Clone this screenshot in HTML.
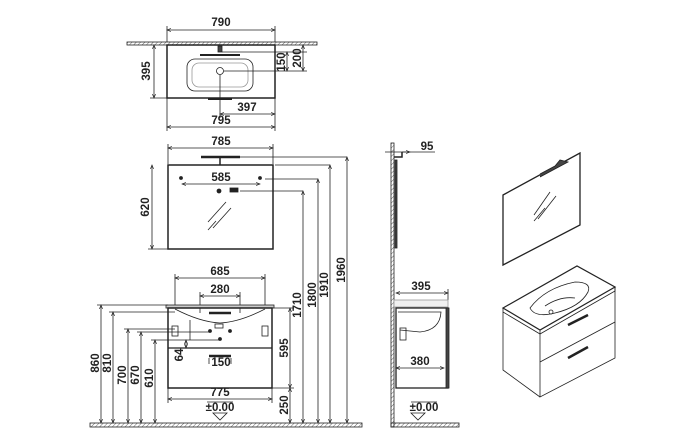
<!DOCTYPE html>
<html><head><style>html,body{margin:0;padding:0;background:#fff}svg{display:block}text{font-family:"Liberation Sans",sans-serif;font-weight:bold;font-size:11.5px;fill:#222}</style></head><body>
<svg width="678" height="447" viewBox="0 0 678 447" xmlns="http://www.w3.org/2000/svg">
<defs>
<pattern id="h" width="3" height="3" patternUnits="userSpaceOnUse" patternTransform="rotate(45)"><line x1="0" y1="0" x2="0" y2="3" stroke="#666" stroke-width="1"/></pattern>
<marker id="a" markerWidth="6" markerHeight="6" refX="5" refY="3" orient="auto-start-reverse"><path d="M0,1 L5,3 L0,5" fill="none" stroke="#222" stroke-width="0.8"/></marker>
</defs>
<g stroke="#222" fill="none" stroke-width="0.8">
<rect x="127" y="42" width="190" height="3" fill="url(#h)"/>
<rect x="167" y="45" width="108" height="53" stroke-width="1.5"/>
<rect x="187" y="59" width="66" height="32" rx="8"/>
<rect x="192" y="63" width="56" height="24" rx="7" stroke="#999"/>
<circle cx="220" cy="71" r="3.5"/>
<rect x="218" y="46" width="4" height="6" fill="#444"/>
<line x1="200" y1="55" x2="240" y2="55" stroke-width="2"/>
<line x1="208" y1="99" x2="232" y2="99" stroke-width="2"/>
<line x1="167" y1="30" x2="275" y2="30" marker-start="url(#a)" marker-end="url(#a)"/>
<line x1="167" y1="26" x2="167" y2="42"/><line x1="275" y1="26" x2="275" y2="42"/>
<line x1="154" y1="45" x2="154" y2="98" marker-start="url(#a)" marker-end="url(#a)"/>
<line x1="150" y1="98" x2="167" y2="98"/>
<line x1="222" y1="52" x2="307" y2="52"/>
<line x1="224" y1="71" x2="290" y2="71"/>
<line x1="287" y1="52" x2="287" y2="71" marker-start="url(#a)" marker-end="url(#a)"/>
<line x1="303" y1="45" x2="303" y2="71" marker-start="url(#a)" marker-end="url(#a)"/>
<line x1="290" y1="71" x2="307" y2="71"/>
<line x1="220" y1="75" x2="220" y2="118"/>
<line x1="220" y1="114" x2="275" y2="114" marker-start="url(#a)" marker-end="url(#a)"/>
<line x1="167" y1="98" x2="167" y2="131"/><line x1="275" y1="98" x2="275" y2="131"/>
<line x1="167" y1="127" x2="275" y2="127" marker-start="url(#a)" marker-end="url(#a)"/>
<line x1="168" y1="148" x2="273" y2="148" marker-start="url(#a)" marker-end="url(#a)"/>
<line x1="168" y1="144" x2="168" y2="164"/><line x1="273" y1="144" x2="273" y2="164"/>
<line x1="201" y1="157" x2="240" y2="157" stroke-width="2.5"/>
<line x1="220" y1="158" x2="220" y2="165" stroke-width="1.5"/>
<rect x="168" y="165" width="105" height="84" stroke-width="1.5"/>
<line x1="152" y1="165" x2="152" y2="249" marker-start="url(#a)" marker-end="url(#a)"/>
<line x1="148" y1="249" x2="168" y2="249"/>
<circle cx="181" cy="178" r="1.5" fill="#222"/><circle cx="260" cy="178" r="1.5" fill="#222"/>
<line x1="182" y1="184" x2="260" y2="184" marker-start="url(#a)" marker-end="url(#a)"/>
<circle cx="219" cy="191" r="2" fill="#222"/><rect x="230" y="188" width="8" height="4" fill="#222"/>
<line x1="208" y1="222" x2="226" y2="202"/><line x1="213" y1="228" x2="231" y2="208"/><line x1="208" y1="230" x2="216" y2="221"/>
<line x1="240" y1="157" x2="347" y2="157"/><line x1="275" y1="165" x2="330" y2="165"/>
<line x1="265" y1="179" x2="318" y2="179"/><line x1="240" y1="191" x2="303" y2="191"/>
<line x1="347" y1="157" x2="347" y2="423" marker-start="url(#a)" marker-end="url(#a)"/>
<line x1="330" y1="165" x2="330" y2="423" marker-start="url(#a)" marker-end="url(#a)"/>
<line x1="318" y1="179" x2="318" y2="423" marker-start="url(#a)" marker-end="url(#a)"/>
<line x1="303" y1="191" x2="303" y2="423" marker-start="url(#a)" marker-end="url(#a)"/>
<line x1="175" y1="278" x2="265" y2="278" marker-start="url(#a)" marker-end="url(#a)"/>
<line x1="175" y1="274" x2="175" y2="306"/><line x1="265" y1="274" x2="265" y2="306"/>
<line x1="200" y1="296" x2="240" y2="296" marker-start="url(#a)" marker-end="url(#a)"/>
<line x1="200" y1="292" x2="200" y2="313"/><line x1="240" y1="292" x2="240" y2="313"/>
<rect x="166" y="305" width="108" height="3" fill="#ccc"/>
<rect x="168" y="308" width="104" height="80" stroke-width="1.5"/>
<line x1="168" y1="348" x2="272" y2="348" stroke-width="1.3"/>
<path d="M175,309 Q200,322 220,323 Q240,322 265,309"/>
<line x1="209" y1="313" x2="231" y2="313" stroke-width="2.5"/>
<rect x="215" y="324" width="8" height="4"/>
<rect x="172" y="326" width="6" height="10"/><rect x="262" y="326" width="6" height="10"/>
<circle cx="210" cy="331" r="1.5" fill="#222"/><circle cx="230" cy="331" r="1.5" fill="#222"/><circle cx="220" cy="339" r="1.5" fill="#222"/>
<line x1="190" y1="320" x2="190" y2="340"/>
<line x1="209" y1="356" x2="231" y2="356" stroke-width="2.5"/>
<line x1="209" y1="358" x2="209" y2="364"/><line x1="231" y1="358" x2="231" y2="364"/>
<line x1="168" y1="399" x2="272" y2="399" marker-start="url(#a)" marker-end="url(#a)"/>
<line x1="168" y1="388" x2="168" y2="403"/><line x1="272" y1="388" x2="272" y2="403"/>
<line x1="272" y1="308" x2="294" y2="308"/><line x1="272" y1="388" x2="294" y2="388"/>
<line x1="290" y1="308" x2="290" y2="388" marker-start="url(#a)" marker-end="url(#a)"/>
<line x1="290" y1="388" x2="290" y2="423" marker-start="url(#a)" marker-end="url(#a)"/>
<line x1="97" y1="305" x2="168" y2="305"/><line x1="101" y1="305" x2="101" y2="423" marker-start="url(#a)" marker-end="url(#a)"/>
<line x1="109" y1="312" x2="175" y2="312"/><line x1="113" y1="312" x2="113" y2="423" marker-start="url(#a)" marker-end="url(#a)"/>
<line x1="124" y1="329" x2="175" y2="329"/><line x1="128" y1="329" x2="128" y2="423" marker-start="url(#a)" marker-end="url(#a)"/>
<line x1="137" y1="332" x2="210" y2="332"/><line x1="141" y1="332" x2="141" y2="423" marker-start="url(#a)" marker-end="url(#a)"/>
<line x1="151" y1="340" x2="220" y2="340"/><line x1="155" y1="340" x2="155" y2="423" marker-start="url(#a)" marker-end="url(#a)"/>
<line x1="186" y1="340" x2="186" y2="348" marker-start="url(#a)" marker-end="url(#a)"/>
<line x1="207" y1="402" x2="233" y2="402"/>
<path d="M213,413 L227,413 L220,420 Z"/>
<rect x="90" y="423" width="272" height="4" fill="url(#h)"/>
<rect x="391" y="143" width="3" height="284" fill="url(#h)"/>
<rect x="391" y="423" width="68" height="4" fill="url(#h)"/>
<rect x="395" y="160" width="2" height="88" fill="#444"/>
<path d="M394,157 L402,157 L402,152" stroke-width="1.5"/>
<line x1="385" y1="152" x2="410" y2="152" marker-end="url(#a)"/>
<line x1="402" y1="152" x2="435" y2="152"/>
<line x1="396" y1="293" x2="448" y2="293" marker-start="url(#a)" marker-end="url(#a)"/>
<line x1="448" y1="289" x2="448" y2="300"/>
<rect x="394" y="300" width="54" height="7" fill="#f0f0f0" stroke="#999"/>
<rect x="396" y="308" width="52" height="80" stroke-width="1.3"/>
<rect x="446" y="308" width="3" height="80" fill="#444"/>
<path d="M398,312 L441,312 Q440,330 420,332 L400,330"/>
<rect x="400" y="328" width="6" height="12"/>
<line x1="396" y1="368" x2="444" y2="368" marker-start="url(#a)" marker-end="url(#a)"/>
<line x1="411" y1="402" x2="437" y2="402"/>
<path d="M411,413 L425,413 L418,420 Z"/>
<path d="M503,195 L580,153 L580,225 L503,265 Z" stroke-width="1.3"/>
<path d="M540,174 L555,166 L560,160 L568,162 L540,177" fill="#444"/>
<line x1="534" y1="215" x2="550" y2="192"/><line x1="538" y1="219" x2="556" y2="196"/><line x1="534" y1="221" x2="545" y2="208"/>
<path d="M503,308 L577,266 L615,287 L540,330 Z" stroke-width="1.2"/>
<path d="M503,308 L503,312 L540,334 L615,291 L615,287"/>
<path d="M540,330 L540,397 L615,358 L615,287"/>
<path d="M503,312 L503,370 L540,397"/>
<line x1="540" y1="362" x2="615" y2="322"/>
<path d="M530,308 Q545,288 575,282 Q592,282 588,292 Q580,307 555,313 Q535,318 530,308 Z"/>
<path d="M545,306 Q560,296 575,298"/>
<circle cx="551" cy="312" r="2"/>
<line x1="568" y1="325" x2="588" y2="315" stroke-width="2.5"/>
<line x1="568" y1="358" x2="588" y2="347" stroke-width="2.5"/>
</g>
<g>
<text x="221" y="26" text-anchor="middle">790</text>
<text transform="translate(150,71) rotate(-90)" text-anchor="middle">395</text>
<text transform="translate(285,62) rotate(-90)" text-anchor="middle" font-size="10.5">150</text>
<text transform="translate(301,58) rotate(-90)" text-anchor="middle" font-size="10.5">200</text>
<text x="247" y="111" text-anchor="middle">397</text>
<text x="221" y="124" text-anchor="middle">795</text>
<text x="221" y="145" text-anchor="middle">785</text>
<text x="221" y="181" text-anchor="middle">585</text>
<text transform="translate(149,207) rotate(-90)" text-anchor="middle">620</text>
<text x="220" y="275" text-anchor="middle">685</text>
<text x="220" y="293" text-anchor="middle">280</text>
<text x="220" y="396" text-anchor="middle">775</text>
<text x="221" y="366" text-anchor="middle">150</text>
<text transform="translate(183,355) rotate(-90)" text-anchor="middle">64</text>
<text transform="translate(288,348) rotate(-90)" text-anchor="middle">595</text>
<text transform="translate(288,405) rotate(-90)" text-anchor="middle">250</text>
<text transform="translate(301,305) rotate(-90)" text-anchor="middle">1710</text>
<text transform="translate(316,295) rotate(-90)" text-anchor="middle">1800</text>
<text transform="translate(328,285) rotate(-90)" text-anchor="middle">1910</text>
<text transform="translate(345,270) rotate(-90)" text-anchor="middle">1960</text>
<text transform="translate(99,363) rotate(-90)" text-anchor="middle">860</text>
<text transform="translate(111,363) rotate(-90)" text-anchor="middle">810</text>
<text transform="translate(126,375) rotate(-90)" text-anchor="middle">700</text>
<text transform="translate(139,375) rotate(-90)" text-anchor="middle">670</text>
<text transform="translate(153,378) rotate(-90)" text-anchor="middle">610</text>
<text x="220" y="411" text-anchor="middle" font-size="10" font-weight="normal">±0.00</text>
<text x="427" y="150" text-anchor="middle">95</text>
<text x="421" y="290" text-anchor="middle">395</text>
<text x="420" y="365" text-anchor="middle">380</text>
<text x="424" y="411" text-anchor="middle" font-size="10" font-weight="normal">±0.00</text>
</g>
</svg>
</body></html>
